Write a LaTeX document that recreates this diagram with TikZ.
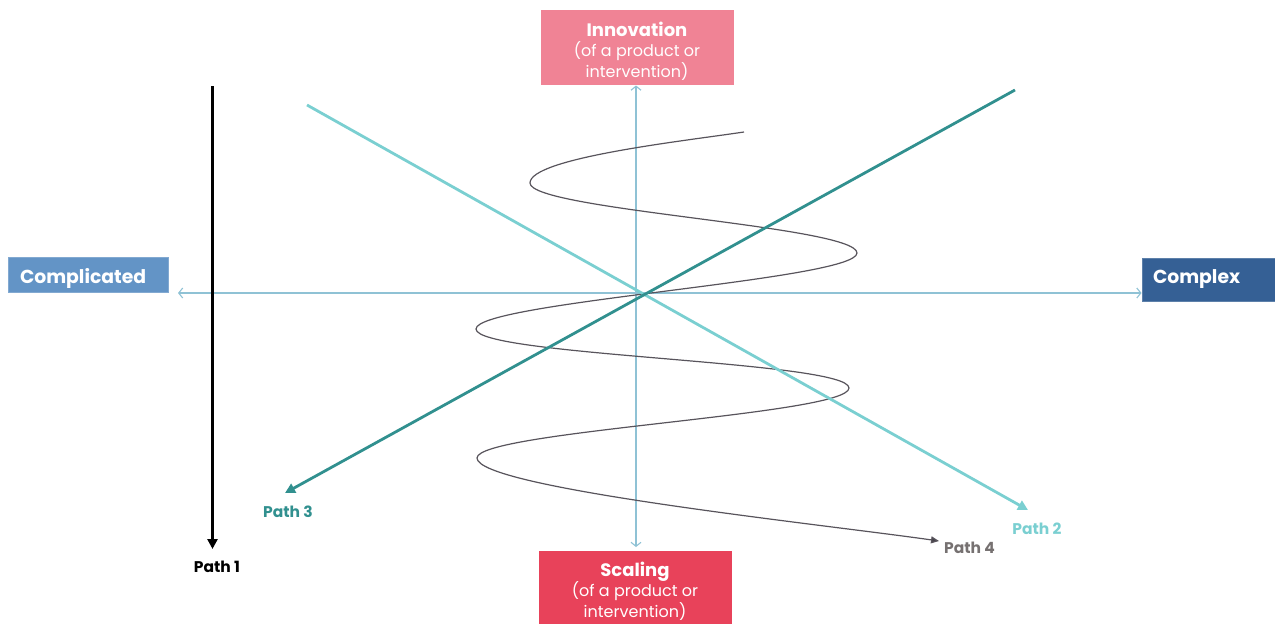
\documentclass[tikz,border=0pt]{standalone}
\usepackage{fontspec}
\setmainfont{Poppins}
\usetikzlibrary{arrows.meta}
\definecolor{cmpfill}{HTML}{6394C6}
\definecolor{cpxfill}{HTML}{356095}
\definecolor{innfill}{HTML}{F08395}
\definecolor{sclfill}{HTML}{E8425A}
\definecolor{ptwo}{HTML}{7ACFD1}
\definecolor{pthree}{HTML}{31908F}
\definecolor{axiscol}{HTML}{8FC2D5}
\definecolor{spiralcol}{HTML}{58545C}
\definecolor{pfour}{HTML}{767171}
\tikzset{
  sidebox/.style={draw=#1!80!white, fill=#1, line width=0.6pt, text=white, align=left,
    font=\bfseries\fontsize{18.8}{22}\selectfont, inner ysep=0pt},
  topbox/.style={fill=#1, minimum width=193pt, minimum height=75pt, inner sep=0pt},
  boxtext/.style={text=white, align=center, font=\fontsize{16}{20.5}\selectfont, inner sep=0pt},
  axisline/.style={draw=axiscol, line width=1.1pt, {Straight Barb[length=4pt,width=10pt]}-{Straight Barb[length=4pt,width=10pt]}},
  pathline/.style={line width=2.8pt, -{Triangle[length=10pt,width=10pt]}},
  plabel/.style={font=\bfseries\fontsize{15.5}{18}\selectfont, inner sep=1pt},
}
\begin{document}
\begin{tikzpicture}[x=1pt,y=-1pt]
\useasboundingbox (0,0) rectangle (1275,624);
% boxes
\node[sidebox=cmpfill, minimum width=160pt, minimum height=35pt, text width=136pt, inner xsep=12pt,
  text height=17pt, text depth=0pt] (cmp) at (88,274.5) {Complicated};
\node[sidebox=cpxfill, minimum width=140pt, minimum height=43pt, text width=118pt, inner xsep=11pt] (cpx) at (1212,279.5) {Complex};
\node[topbox=innfill] (inn) at (637,47.5) {};
\node[topbox=sclfill] (scl) at (635,588) {};
\node[boxtext] (innt) at (inn.center) [yshift=-3.5pt]
  {{\bfseries\fontsize{18}{20.5}\selectfont Innovation}\\(of a product or\\intervention)};
\node[boxtext] (sclt) at (scl.center) [yshift=-3pt]
  {{\bfseries\fontsize{18}{20.5}\selectfont Scaling}\\(of a product or\\intervention)};
% path labels
\node[plabel, text=black] (p1) at (217,567) {Path 1};
\node[plabel, text=ptwo] (p2) at (1037,529) {Path 2};
\node[plabel, text=pthree] (p3) at (288,512) {Path 3};
\node[plabel, text=pfour, anchor=west] (p4) at (943,548) {Path 4};
% coordinates
\coordinate (hl) at (178,293);
\coordinate (hr) at (1141.5,293);
\coordinate (vt) at (636,85.5);
\coordinate (vb) at (636,547);
\coordinate (p1s) at (212.5,86);
\coordinate (p1e) at (212.5,549);
\coordinate (p2s) at (307,105);
\coordinate (p2e) at (1028,510);
\coordinate (p3s) at (1015,90);
\coordinate (p3e) at (285,493);
\coordinate (S) at (744,132);
\coordinate (L1) at (530,183);
\coordinate (R1) at (857,253);
\coordinate (L2) at (476,329);
\coordinate (R2) at (849,388);
\coordinate (L3) at (477,458);
\coordinate (E) at (939,541);
% axes
\draw[axisline] (hl) -- (hr);
\draw[axisline] (vt) -- (vb);
% spiral (path 4)
\draw[draw=spiralcol, line width=1.2pt, -{Triangle[length=8pt,width=7pt,fill=spiralcol!80!black]}]
  (S) .. controls (684,141) and (530,158) .. (L1)
      .. controls (530,210) and (857,226) .. (R1)
      .. controls (857,280) and (476,302) .. (L2)
      .. controls (476,356) and (849,361) .. (R2)
      .. controls (849,415) and (477,431) .. (L3)
      .. controls (477,488) and (820,524) .. (E);
% paths
\draw[pathline, draw=ptwo, fill=ptwo] (p2s) -- (p2e);
\draw[pathline, draw=pthree, fill=pthree] (p3s) -- (p3e);
\draw[pathline, draw=black, line width=2.6pt] (p1s) -- (p1e);
\end{tikzpicture}
\end{document}
